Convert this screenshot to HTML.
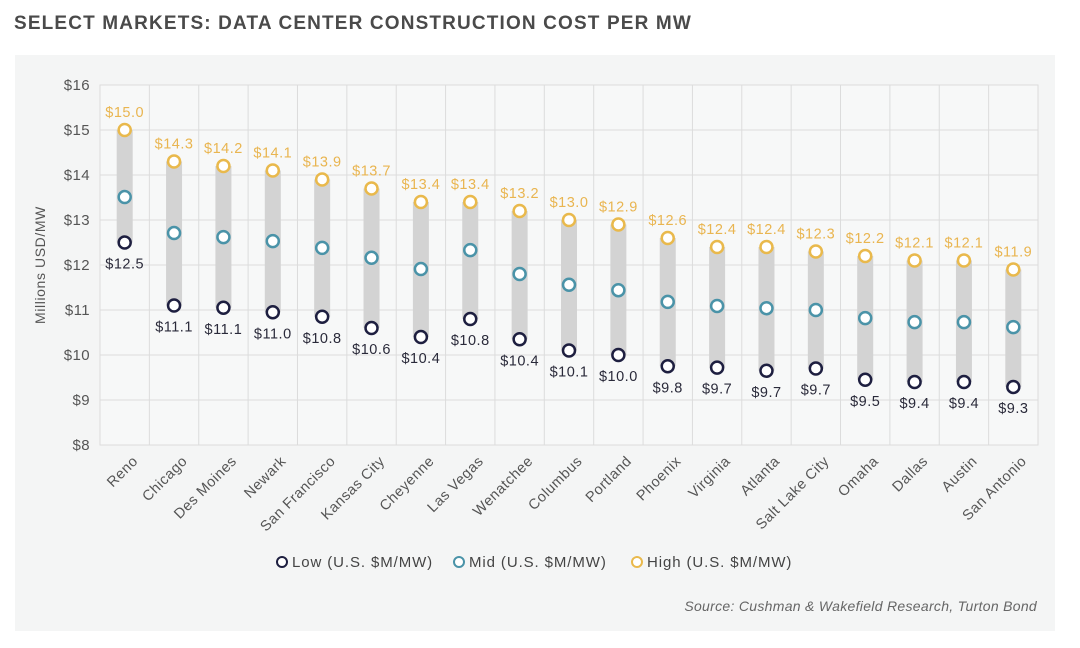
<!DOCTYPE html>
<html><head><meta charset="utf-8"><style>
body{margin:0;background:#fff;width:1080px;height:643px;overflow:hidden;font-family:"Liberation Sans",sans-serif}
</style></head><body>
<svg width="1080" height="643" xmlns="http://www.w3.org/2000/svg" font-family="Liberation Sans, sans-serif">
<text x="14" y="29" font-size="19" font-weight="bold" fill="#4a4a4a" letter-spacing="1.15">SELECT MARKETS: DATA CENTER CONSTRUCTION COST PER MW</text>
<rect x="15" y="55" width="1040" height="576" fill="#f4f5f5"/>
<g id="g"></g>
</svg>
<script>
const ns="http://www.w3.org/2000/svg",g=document.getElementById('g');
function el(t,a,txt){const e=document.createElementNS(ns,t);for(const k in a)e.setAttribute(k,a[k]);if(txt!=null)e.textContent=txt;g.appendChild(e);return e;}
const L=100,R=1038,T=85,B=445,Y=v=>T+(16-v)*45;
const names=["Reno","Chicago","Des Moines","Newark","San Francisco","Kansas City","Cheyenne","Las Vegas","Wenatchee","Columbus","Portland","Phoenix","Virginia","Atlanta","Salt Lake City","Omaha","Dallas","Austin","San Antonio"];
const hi=[15.0,14.3,14.2,14.1,13.9,13.7,13.4,13.4,13.2,13.0,12.9,12.6,12.4,12.4,12.3,12.2,12.1,12.1,11.9];
const mid=[13.51,12.71,12.62,12.53,12.38,12.16,11.91,12.33,11.8,11.56,11.44,11.18,11.09,11.04,11.0,10.82,10.73,10.73,10.62];
const lo=[12.5,11.1,11.05,10.95,10.85,10.6,10.4,10.8,10.35,10.1,10.0,9.75,9.72,9.65,9.7,9.45,9.4,9.4,9.29];
const loL=["12.5","11.1","11.1","11.0","10.8","10.6","10.4","10.8","10.4","10.1","10.0","9.8","9.7","9.7","9.7","9.5","9.4","9.4","9.3"];
el('rect',{x:L,y:T,width:R-L,height:B-T,fill:"#f7f8f8",stroke:"#dcdcdc"});
for(let v=8;v<=16;v++){el('line',{x1:L,x2:R,y1:Y(v),y2:Y(v),stroke:"#dcdcdc"});
el('text',{x:90,y:Y(v)+5,"text-anchor":"end","font-size":15,"letter-spacing":0.4,fill:"#555"},"$"+v);}
const w=(R-L)/19;
for(let i=1;i<19;i++)el('line',{x1:L+i*w,x2:L+i*w,y1:T,y2:B,stroke:"#dcdcdc"});
el('text',{x:0,y:0,transform:"translate(45,265) rotate(-90)","text-anchor":"middle","font-size":14,"letter-spacing":0.6,fill:"#555"},"Millions USD/MW");
names.forEach((n,i)=>{const x=L+w*(i+0.5);
el('rect',{x:x-8,y:Y(hi[i]),width:16,height:Y(lo[i])-Y(hi[i]),fill:"#d3d3d3"});
el('circle',{cx:x,cy:Y(hi[i]),r:6,fill:"#fff",stroke:"#e9b94c","stroke-width":2.5});
el('circle',{cx:x,cy:Y(mid[i]),r:6,fill:"#fff",stroke:"#4a93a8","stroke-width":2.5});
el('circle',{cx:x,cy:Y(lo[i]),r:6,fill:"#fff",stroke:"#1e1f40","stroke-width":2.5});
el('text',{x:x,y:Y(hi[i])-13,"text-anchor":"middle","font-size":14.5,"letter-spacing":0.5,fill:"#e9b550"},"$"+hi[i].toFixed(1));
el('text',{x:x,y:Y(lo[i])+26,"text-anchor":"middle","font-size":14.5,"letter-spacing":0.5,fill:"#2a2a3a"},"$"+loL[i]);
el('text',{x:0,y:0,transform:`translate(${x+14},462) rotate(-45)`,"text-anchor":"end","font-size":14.5,"letter-spacing":0.5,fill:"#555"},n);
});
[[282,"#1e1f40","Low (U.S. $M/MW)"],[459,"#4a93a8","Mid (U.S. $M/MW)"],[637,"#e9b94c","High (U.S. $M/MW)"]].forEach(([x,c,t])=>{
el('circle',{cx:x,cy:562,r:5,fill:"#fff",stroke:c,"stroke-width":2});
el('text',{x:x+10,y:567,"font-size":15,"letter-spacing":0.9,fill:"#444"},t);});
el('text',{x:1037,y:611,"text-anchor":"end","font-size":14,"font-style":"italic","letter-spacing":0.3,fill:"#666"},"Source: Cushman & Wakefield Research, Turton Bond");
</script>
</body></html>
